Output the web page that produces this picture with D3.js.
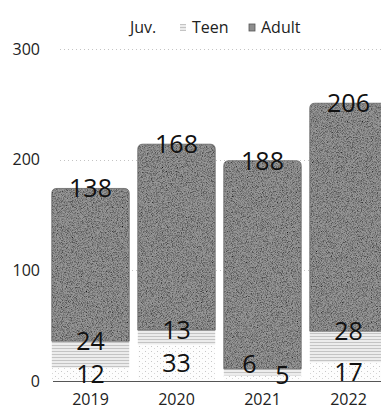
<!DOCTYPE html>
<html>
<head>
<meta charset="utf-8">
<script src="https://cdn.jsdelivr.net/npm/d3@7/dist/d3.min.js"></script>
<style>
  html, body { margin: 0; padding: 0; background: #fff; }
  svg { display: block; font-family: "Open Sans", "Noto Sans", sans-serif; font-weight: 400; }
</style>
</head>
<body>
<svg id="chart" width="381" height="410"></svg>
<script>
// Counts per year, stacked bottom to top: Juv., Teen, Adult
const years = ["2019", "2020", "2021", "2022"];
const seriesNames = ["Juv.", "Teen", "Adult"];
const juv = [12, 33, 5, 17];
const teen = [24, 13, 6, 28];
const adult = [138, 168, 188, 206];
const yTicks = [0, 100, 200, 300];

const W = 381, H = 410;
const svg = d3.select("#chart");

const rows = years.map((yr, i) => ({ year: yr, "Juv.": juv[i], "Teen": teen[i], "Adult": adult[i] }));
const stacked = d3.stack().keys(seriesNames)(rows);

const x = d3.scaleBand().domain(years).range([47.5, 391.5]).paddingInner(0.1).paddingOuter(0.05);
const y = d3.scaleLinear().domain([0, 300]).range([381, 49]);

// Fills: grainy grey for adults, striped light grey for teens, sparse dots for juveniles
const defs = svg.append("defs");
const grain = defs.append("filter").attr("id", "grain").attr("x", 0).attr("y", 0).attr("width", 1).attr("height", 1);
grain.append("feTurbulence").attr("type", "fractalNoise").attr("baseFrequency", 1.2).attr("numOctaves", 1).attr("seed", 3).attr("result", "noise");
grain.append("feColorMatrix").attr("in", "noise").attr("type", "matrix")
  .attr("values", "0 0 0 0 0  0 0 0 0 0  0 0 0 0 0  0 0 0 -2.2 1.35").attr("result", "specks");
grain.append("feComposite").attr("in", "specks").attr("in2", "SourceGraphic").attr("operator", "in").attr("result", "clipped");
grain.append("feMerge").call(m => {
  m.append("feMergeNode").attr("in", "SourceGraphic");
  m.append("feMergeNode").attr("in", "clipped");
});

const teenPat = defs.append("pattern").attr("id", "teenFill").attr("patternUnits", "userSpaceOnUse").attr("width", 3).attr("height", 3);
teenPat.append("rect").attr("width", 3).attr("height", 3).attr("fill", "#ececec");
teenPat.append("rect").attr("width", 3).attr("height", 1).attr("fill", "#c4c4c4");

const juvPat = defs.append("pattern").attr("id", "juvFill").attr("patternUnits", "userSpaceOnUse").attr("width", 6).attr("height", 5);
juvPat.append("rect").attr("width", 6).attr("height", 5).attr("fill", "#fdfdfd");
juvPat.append("rect").attr("x", 1).attr("y", 1).attr("width", 1).attr("height", 1).attr("fill", "#c8c8c8");
juvPat.append("rect").attr("x", 4).attr("y", 3).attr("width", 1).attr("height", 1).attr("fill", "#d6d6d6");

const fills = { "Juv.": "url(#juvFill)", "Teen": "url(#teenFill)", "Adult": "#989898" };

// Dotted gridlines
const grid = svg.append("g");
grid.selectAll("line").data(yTicks.filter(t => t > 0)).join("line")
  .attr("x1", 60).attr("x2", W)
  .attr("y1", d => Math.round(y(d)) + 0.5).attr("y2", d => Math.round(y(d)) + 0.5)
  .attr("stroke", "#c4c4c4").attr("stroke-width", 1).attr("stroke-dasharray", "1 3");

// Y axis labels
svg.append("g").selectAll("text").data(yTicks).join("text")
  .attr("x", 40).attr("y", d => y(d)).attr("dy", "0.35em")
  .attr("text-anchor", "end").attr("font-size", 16).attr("fill", "#222")
  .text(d => d);

// Bars: top segment gets rounded upper corners
const r = 5;
function segPath(x0, w, yTop, yBot, rounded) {
  if (!rounded) return `M${x0},${yBot}V${yTop}H${x0 + w}V${yBot}Z`;
  return `M${x0},${yBot}V${yTop + r}Q${x0},${yTop} ${x0 + r},${yTop}H${x0 + w - r}Q${x0 + w},${yTop} ${x0 + w},${yTop + r}V${yBot}Z`;
}

const bars = svg.append("g");
stacked.forEach(layer => {
  const key = layer.key;
  bars.append("g").selectAll("path").data(layer).join("path")
    .attr("d", d => segPath(x(d.data.year), x.bandwidth(), y(d[1]), y(d[0]), key === "Adult"))
    .attr("fill", fills[key])
    .attr("filter", key === "Adult" ? "url(#grain)" : null);
  if (key === "Adult") {
    bars.append("g").selectAll("path").data(layer).join("path")
      .attr("d", d => segPath(x(d.data.year), x.bandwidth(), y(d[1]), y(d[0]), true))
      .attr("fill", "none").attr("stroke", "#666").attr("stroke-width", 0.8);
  }
});

// Baseline
svg.append("line")
  .attr("x1", 53).attr("x2", W).attr("y1", y(0) + 0.5).attr("y2", y(0) + 0.5)
  .attr("stroke", "#555").attr("stroke-width", 1.2);

// Value labels: juveniles in the middle of their segment, others on the segment top.
// When the two lower labels would collide, push them apart sideways.
const labelPos = [];
stacked.forEach(layer => {
  layer.forEach((d, i) => {
    const cx = x(d.data.year) + x.bandwidth() / 2;
    const cy = layer.key === "Juv." ? (y(d[0]) + y(d[1])) / 2 : y(d[1]);
    labelPos.push({ key: layer.key, i, cx, cy, value: d[1] - d[0] });
  });
});
years.forEach((yr, i) => {
  const a = labelPos.find(p => p.key === "Juv." && p.i === i);
  const b = labelPos.find(p => p.key === "Teen" && p.i === i);
  if (Math.abs(a.cy - b.cy) < 18) {
    b.cx -= 13; b.cy -= 5;
    a.cx += 20; a.cy -= 3;
  }
});
svg.append("g").attr("font-size", 25).attr("fill", "#111").attr("text-anchor", "middle")
  .selectAll("text").data(labelPos).join("text")
  .attr("x", d => d.cx).attr("y", d => d.cy).attr("dy", "0.36em")
  .text(d => d.value);

// X axis labels
svg.append("g").selectAll("text").data(years).join("text")
  .attr("x", d => x(d) + x.bandwidth() / 2).attr("y", 405)
  .attr("text-anchor", "middle").attr("font-size", 16).attr("fill", "#222")
  .text(d => d);

// Legend
const legendItems = [
  { name: "Juv.", fill: "#ffffff", tx: 130, mx: 119 },
  { name: "Teen", fill: "url(#teenFill)", tx: 192, mx: 180 },
  { name: "Adult", fill: "#8e8e8e", tx: 261, mx: 249 }
];
const lg = svg.append("g");
lg.selectAll("rect").data(legendItems).join("rect")
  .attr("x", d => d.mx).attr("y", 24).attr("width", 6).attr("height", 7)
  .attr("fill", d => d.fill)
  .attr("stroke", d => d.name === "Adult" ? "#555" : "none").attr("stroke-width", 0.8);
lg.selectAll("text").data(legendItems).join("text")
  .attr("x", d => d.tx).attr("y", 33)
  .attr("font-size", 16).attr("fill", "#222")
  .text(d => d.name);
</script>
</body>
</html>
